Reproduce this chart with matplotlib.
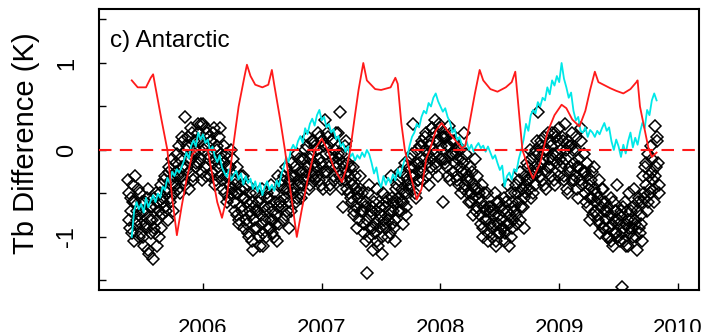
import numpy as np
import matplotlib
matplotlib.use("Agg")
import matplotlib.pyplot as plt

plt.rcParams['font.family'] = ['Liberation Sans', 'DejaVu Sans']

# observations every 4 days from mid May 2005 (two passes, offset by 2 days)
obs_start = 2005.37
obs_step_days = 4
obs_y = [
    -0.35, -0.8, -0.55, -0.95, -0.6, -0.3, -0.85, -0.7, -1.0,
    -0.5, -0.95, -0.7, -1.1, -0.6, -0.85, -0.45, -1.2, -0.8,
    -0.65, -1.25, -0.9, -0.5, -0.8, -0.6, -1.0, -0.4, -0.75,
    -0.55, -0.3, -0.7, -0.45, -0.2, -0.6, -0.35, -0.1, -0.5,
    -0.4, -0.15, -0.3, 0.05, -0.5, -0.2, 0.1, -0.35, 0.38,
    -0.2, 0.15, -0.45, -0.05, 0.2, -0.3, 0.0, -0.15, 0.1,
    0.2, -0.1, 0.3, -0.35, 0.05, -0.2, 0.25, -0.05, 0.15,
    -0.3, 0.1, -0.15, 0.25, -0.4, 0.0, -0.2, 0.15, -0.05,
    -0.1, -0.45, 0.05, -0.3, -0.6, -0.2, -0.4, 0.0, -0.5,
    -0.35, -0.7, -0.5, -0.2, -0.8, -0.45, -0.65, -0.3, -0.9,
    -0.55, -0.85, -0.4, -1.0, -0.7, -0.6, -1.15, -0.8, -0.5,
    -0.9, -0.6, -1.1, -0.75, -0.45, -0.95, -0.7, -1.0, -0.55,
    -0.65, -0.9, -0.4, -0.8, -1.0, -0.6, -0.75, -0.3, -0.85,
    -0.6, -0.35, -0.8, -0.45, -0.2, -0.7, -0.5, -0.9, -0.3,
    -0.15, -0.5, -0.3, -0.6, -0.05, -0.4, -0.25, -0.55, -0.1,
    -0.35, 0.0, -0.25, 0.15, -0.45, -0.1, 0.1, -0.3, -0.15,
    0.05, -0.3, 0.2, -0.1, -0.4, 0.1, -0.2, 0.35, -0.05,
    -0.25, 0.15, -0.4, -0.05, 0.1, -0.3, 0.0, -0.2, 0.2,
    -0.1, 0.44, -0.35, -0.65, -0.2, 0.05, -0.45, -0.15, -0.3,
    -0.35, -0.6, -0.2, -0.75, -0.45, -0.9, -0.55, -0.3, -0.7,
    -0.5, -0.85, -0.65, -1.05, -1.42, -0.4, -0.9, -0.7, -1.15,
    -0.6, -0.95, -0.45, -1.1, -0.8, -0.65, -1.2, -0.5, -0.85,
    -0.9, -0.55, -1.0, -0.7, -0.3, -0.85, -0.6, -1.05, -0.45,
    -0.4, -0.7, -0.25, -0.6, -0.85, -0.5, -0.15, -0.65, -0.35,
    -0.45, -0.1, -0.3, 0.3, -0.2, -0.55, 0.0, -0.35, -0.15,
    -0.2, 0.1, -0.35, 0.0, 0.2, -0.15, -0.4, 0.05, -0.1,
    0.25, -0.05, 0.35, -0.2, 0.1, 0.3, -0.1, 0.15, -0.6,
    0.2, -0.15, 0.05, -0.3, 0.28, -0.05, 0.1, -0.25, 0.0,
    -0.05, -0.35, 0.05, -0.2, -0.5, -0.1, 0.2, -0.4, -0.25,
    -0.3, -0.6, -0.2, -0.5, -0.75, -0.4, -0.1, -0.65, -0.45,
    -0.55, -0.85, -0.4, -1.0, -0.65, -0.8, -0.5, -0.95, -0.7,
    -0.65, -1.0, -0.75, -0.5, -1.1, -0.85, -0.6, -0.95, -0.8,
    -0.9, -0.55, -1.05, -0.7, -0.4, -0.85, -1.0, -0.6, -0.8,
    -0.7, -0.4, -0.85, -0.5, -0.25, -0.65, -0.45, -0.9, -0.3,
    -0.5, -0.15, -0.35, 0.0, -0.55, -0.25, -0.05, -0.4, 0.1,
    0.44, -0.2, 0.05, -0.35, -0.1, 0.15, -0.45, 0.0, -0.2,
    0.1, -0.3, 0.2, -0.05, -0.4, 0.15, -0.15, 0.25, -0.1,
    -0.2, 0.1, -0.35, 0.3, -0.1, -0.5, 0.05, -0.25, 0.2,
    0.0, -0.35, 0.15, -0.2, -0.55, -0.1, 0.25, -0.4, -0.25,
    -0.25, -0.6, -0.15, -0.45, -0.8, -0.35, -0.55, -0.2, -0.7,
    -0.5, -0.8, -0.35, -0.95, -0.6, -0.45, -0.9, -0.7, -1.0,
    -0.65, -1.0, -0.55, -0.85, -1.1, -0.7, -0.95, -0.4, -0.8,
    -1.05, -0.7, -1.57, -0.9, -0.6, -1.1, -0.8, -0.5, -0.95,
    -0.7, -1.0, -0.45, -0.85, -1.15, -0.6, -0.9, -0.75, -1.05,
    -0.3, -0.55, -0.15, -0.7, -0.05, -0.45, 0.05, -0.25, -0.6,
    0.27, -0.2, 0.1, -0.4,
]
obs2_offset_days = 2
obs2_y = [
    -0.5, -0.9, -0.7, -0.4, -1.05, -0.6, -0.8, -0.45, -0.75,
    -0.85, -0.6, -1.0, -0.7, -0.9, -0.55, -1.15, -0.65, -0.95,
    -0.8, -0.55, -0.95, -0.65, -1.1, -0.7, -0.5, -0.9, -0.6,
    -0.35, -0.65, -0.5, -0.8, -0.25, -0.55, -0.4, -0.7, -0.3,
    -0.25, -0.05, -0.45, -0.1, -0.3, 0.15, -0.2, -0.4, 0.0,
    0.05, -0.25, -0.1, 0.25, -0.35, 0.1, -0.05, -0.2, 0.3,
    -0.15, 0.1, -0.25, 0.3, 0.0, -0.3, 0.2, 0.05, -0.1,
    0.1, -0.25, 0.2, -0.1, -0.35, 0.05, -0.15, 0.25, -0.3,
    -0.35, -0.15, -0.5, -0.05, -0.3, -0.55, -0.2, -0.45, -0.1,
    -0.6, -0.4, -0.75, -0.5, -0.85, -0.3, -0.7, -0.55, -0.45,
    -0.8, -0.6, -0.95, -0.5, -0.75, -1.05, -0.65, -0.9, -0.7,
    -0.7, -1.0, -0.55, -0.85, -1.1, -0.65, -0.8, -0.5, -0.9,
    -0.55, -0.8, -0.95, -0.7, -0.5, -0.85, -1.05, -0.65, -0.6,
    -0.4, -0.65, -0.3, -0.55, -0.75, -0.45, -0.6, -0.35, -0.7,
    -0.3, -0.45, -0.2, -0.55, -0.35, -0.1, -0.5, -0.4, -0.25,
    -0.1, -0.3, 0.05, -0.2, -0.4, -0.05, -0.25, 0.1, -0.35,
    -0.2, 0.0, -0.35, 0.15, -0.15, -0.45, 0.05, -0.25, 0.2,
    0.05, -0.2, -0.45, 0.1, -0.1, -0.35, 0.2, -0.15, -0.05,
    -0.3, -0.05, -0.45, -0.15, -0.35, 0.1, -0.25, -0.5, -0.2,
    -0.55, -0.4, -0.7, -0.3, -0.65, -0.5, -0.8, -0.45, -0.6,
    -0.7, -0.95, -0.6, -0.8, -0.5, -1.0, -0.75, -0.65, -0.9,
    -0.85, -0.7, -1.05, -0.6, -0.9, -0.75, -1.0, -0.8, -0.65,
    -0.6, -0.8, -0.75, -0.95, -0.55, -0.7, -0.9, -0.8, -0.6,
    -0.55, -0.35, -0.7, -0.45, -0.6, -0.3, -0.75, -0.5, -0.4,
    -0.2, -0.4, -0.05, -0.3, -0.5, -0.15, -0.35, -0.25, 0.05,
    0.05, -0.25, -0.1, 0.15, -0.3, -0.05, 0.1, -0.2, 0.25,
    0.0, 0.2, -0.15, 0.1, -0.3, 0.25, 0.05, -0.1, 0.15,
    -0.1, 0.15, -0.2, 0.05, -0.35, 0.2, -0.05, 0.1, -0.15,
    -0.3, -0.1, -0.4, 0.0, -0.25, -0.15, -0.45, -0.05, -0.35,
    -0.5, -0.35, -0.6, -0.25, -0.55, -0.45, -0.7, -0.3, -0.5,
    -0.75, -0.6, -0.9, -0.5, -0.8, -0.7, -1.05, -0.65, -0.85,
    -0.9, -0.7, -0.85, -1.05, -0.6, -0.95, -0.75, -0.65, -0.9,
    -0.7, -0.95, -0.6, -0.85, -1.1, -0.75, -0.5, -0.9, -0.65,
    -0.5, -0.75, -0.6, -0.35, -0.8, -0.45, -0.65, -0.55, -0.4,
    -0.35, -0.2, -0.45, -0.1, -0.3, -0.5, -0.2, 0.0, -0.25,
    -0.05, -0.3, 0.1, -0.15, -0.4, 0.0, -0.25, 0.2, -0.1,
    -0.2, 0.05, -0.1, -0.35, 0.2, -0.05, 0.1, -0.3, 0.0,
    0.15, -0.15, -0.3, 0.0, -0.45, 0.1, -0.2, 0.05, -0.35,
    -0.15, -0.3, 0.0, -0.45, -0.2, -0.35, 0.1, -0.25, -0.05,
    -0.5, -0.3, -0.65, -0.4, -0.55, -0.25, -0.75, -0.45, -0.6,
    -0.75, -0.55, -0.85, -0.65, -0.45, -0.9, -0.6, -0.8, -0.7,
    -0.9, -0.75, -1.05, -0.6, -0.95, -0.8, -0.7, -1.0, -0.85,
    -0.75, -0.95, -0.65, -1.05, -0.85, -0.7, -1.1, -0.9, -0.8,
    -0.9, -0.65, -0.8, -1.0, -0.7, -0.55, -0.95, -0.85, -0.6,
    -0.5, -0.2, -0.4, -0.6, -0.3, -0.5, -0.1, -0.35, -0.45,
    -0.3, 0.15, -0.15, -0.5,
]

# cyan series, every 0.02 yr from 2005.40
cyan_start = 2005.40
cyan_step = 0.02
cyan_y = [
    -1.0, -0.7, -0.6, -0.68, -0.62, -0.72, -0.55, -0.66, -0.58, -0.52,
    -0.6, -0.5, -0.55, -0.42, -0.46, -0.32, -0.38, -0.25, -0.3, -0.22,
    -0.26, -0.2, -0.12, -0.03, -0.1, 0.05, 0.11, 0.04, 0.2, 0.12,
    0.18, 0.08, 0.12, -0.02, 0.04, -0.08, -0.14, -0.06, -0.2, -0.26,
    -0.31, -0.22, -0.35, -0.28, -0.24, -0.34, -0.27, -0.4, -0.3, -0.38,
    -0.33, -0.45, -0.36, -0.48, -0.38, -0.52, -0.42, -0.36, -0.46, -0.4,
    -0.47, -0.35, -0.42, -0.28, -0.2, -0.08, -0.14, 0.0, 0.06, 0.0,
    0.1, 0.16, 0.08, 0.25, 0.18, 0.3, 0.36, 0.28, 0.4, 0.46,
    0.34, 0.38, 0.26, 0.3, 0.2, 0.24, 0.12, 0.16, 0.04, 0.08,
    -0.02, 0.04, -0.08, -0.04, -0.12, -0.06, -0.1, -0.03, -0.08, 0.0,
    -0.05, -0.15, -0.27, -0.2, -0.36, -0.43, -0.3, -0.4, -0.32, -0.38,
    -0.28, -0.35, -0.22, -0.3, -0.2, -0.1, -0.08, 0.05, 0.15, 0.2,
    0.3, 0.26, 0.38, 0.45, 0.42, 0.54, 0.5, 0.6, 0.65, 0.56,
    0.5, 0.44, 0.48, 0.38, 0.32, 0.2, 0.24, 0.11, 0.15, 0.06,
    0.03, 0.1, 0.0, 0.06, -0.02, 0.04, 0.08, 0.02, 0.05, -0.02,
    0.04, -0.03, -0.1, -0.06, -0.15, -0.23, -0.18, -0.42, -0.3, -0.26,
    -0.34, -0.22, -0.25, -0.1, 0.0, 0.12, 0.3, 0.22, 0.4, 0.46,
    0.42, 0.55, 0.5, 0.6, 0.57, 0.72, 0.64, 0.8, 0.74, 0.85,
    0.78, 1.0, 0.82, 0.72, 0.6, 0.66, 0.45, 0.34, 0.38, 0.22,
    0.2, 0.26, 0.15, 0.23, 0.2, 0.15, 0.22, 0.18, 0.25, 0.31,
    0.22, 0.26, 0.1, 0.0, 0.12, 0.04, -0.08, 0.06, -0.04, 0.1,
    0.2, 0.03, 0.14, 0.06, 0.2, 0.31, 0.25, 0.46, 0.4, 0.57,
    0.65, 0.57,
]

# red series
red_x = [
    2005.40, 2005.45, 2005.52, 2005.56, 2005.58, 2005.60, 2005.65, 2005.70,
    2005.74, 2005.78, 2005.82, 2005.86, 2005.91, 2005.95, 2006.04, 2006.08,
    2006.12, 2006.16, 2006.20, 2006.25, 2006.30, 2006.35, 2006.37, 2006.40,
    2006.44, 2006.50, 2006.55, 2006.58, 2006.60, 2006.65, 2006.69, 2006.74,
    2006.79, 2006.83, 2006.88, 2006.94, 2007.00, 2007.05, 2007.10, 2007.17,
    2007.21, 2007.24, 2007.28, 2007.31, 2007.35, 2007.38, 2007.45, 2007.50,
    2007.58, 2007.62, 2007.64, 2007.67, 2007.70, 2007.75, 2007.80, 2007.84,
    2007.88, 2007.91, 2007.96, 2008.01, 2008.06, 2008.12, 2008.18, 2008.21,
    2008.25, 2008.29, 2008.33, 2008.36, 2008.42, 2008.48, 2008.55, 2008.60,
    2008.63, 2008.66, 2008.69, 2008.74, 2008.78, 2008.84, 2008.90, 2008.96,
    2009.02, 2009.06, 2009.11, 2009.17, 2009.22, 2009.26, 2009.30, 2009.33,
    2009.43, 2009.48, 2009.54, 2009.60, 2009.65, 2009.66, 2009.68, 2009.75,
    2009.78, 2009.82,
]
red_y = [
    0.80, 0.72, 0.72, 0.83, 0.87, 0.72, 0.35, 0.0,
    -0.55, -0.98, -0.65, -0.35, -0.05, 0.0, 0.0, -0.3,
    -0.6, -0.78, -0.55, 0.0, 0.5, 0.85, 0.98, 0.85,
    0.75, 0.72, 0.75, 0.92, 0.75, 0.35, 0.0, -0.5,
    -1.0, -0.7, -0.35, 0.0, 0.13, 0.0, -0.2, -0.37,
    -0.2, 0.0, 0.4, 0.69, 1.0, 0.8, 0.7, 0.69,
    0.72, 0.83, 0.76, 0.31, 0.0, -0.3, -0.57, -0.45,
    -0.1, 0.0, 0.22, 0.31, 0.22, 0.12, 0.02, 0.05,
    0.35, 0.65, 0.92, 0.8, 0.7, 0.67, 0.72, 0.78,
    0.9, 0.45, 0.0, -0.2, -0.33, -0.15, 0.2, 0.4,
    0.52, 0.48, 0.35, 0.27, 0.45, 0.69, 0.9, 0.78,
    0.71, 0.68, 0.65, 0.7, 0.78, 0.8, 0.5, 0.03,
    -0.08, -0.03,
]

xticks = [2006, 2007, 2008, 2009, 2010]
yticks = [-1.5, -1, -0.5, 0, 0.5, 1, 1.5]
ytick_labels = ['', '-1', '', '0', '', '1', '']

obs_x = obs_start + np.arange(len(obs_y)) * obs_step_days / 365.25
obs2_x = obs_start + (np.arange(len(obs2_y)) * obs_step_days + obs2_offset_days) / 365.25
cyan_x = cyan_start + np.arange(len(cyan_y)) * cyan_step

fig = plt.figure(figsize=(7.02, 3.32), dpi=100)
ax = fig.add_axes([0.1410, 0.1265, 0.8547, 0.8449])

marker_style = dict(linestyle='none', marker='D', markersize=6.5, markerfacecolor='none',
                    markeredgecolor='black', markeredgewidth=1.1, zorder=2)
ax.plot(obs_x, obs_y, **marker_style)
ax.plot(obs2_x, obs2_y, **marker_style)
ax.plot(cyan_x, cyan_y, color='#00e8e8', linewidth=1.3, zorder=3)
ax.plot(red_x, red_y, color='#ff1a1a', linewidth=1.3, zorder=4)
ax.axhline(0, color='#ff1a1a', linewidth=1.5, linestyle=(0, (6, 4)), zorder=5)

ax.set_xlim(2005.124, 2010.177)
ax.set_ylim(-1.61, 1.615)

ax.set_xticks(xticks)
ax.set_xticklabels([str(t) for t in xticks])
ax.set_yticks(yticks)
ax.set_yticklabels(ytick_labels, rotation=90, va='center')
ax.tick_params(axis='x', direction='in', length=5, width=1, pad=20, labelsize=16)
ax.tick_params(axis='y', direction='in', length=5, width=1, pad=15, labelsize=17)

for sp in ax.spines.values():
    sp.set_linewidth(1.5)

ax.text(0.018, 0.866, 'c) Antarctic', transform=ax.transAxes, fontsize=17.5, va='baseline')
fig.text(26 / 702, 1 - 143 / 332, 'Tb Difference (K)', rotation=90,
         ha='center', va='center', fontsize=21)

fig.savefig('out.png', dpi=100)
